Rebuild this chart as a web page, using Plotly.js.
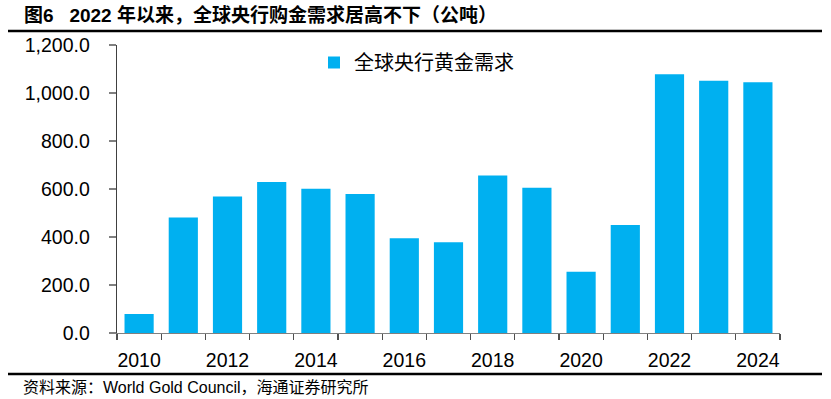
<!DOCTYPE html>
<html>
<head>
<meta charset="utf-8">
<script src="https://cdn.plot.ly/plotly-3.0.1.min.js"></script>
<style>html,body{margin:0;padding:0;background:#fff;}#chart{width:831px;height:399px;}</style>
</head>
<body>
<div id="chart"></div>
<script>
const years = [2010, 2011, 2012, 2013, 2014, 2015, 2016, 2017, 2018, 2019, 2020, 2021, 2022, 2023, 2024];
const demand = [79.2, 480.8, 569.0, 629.5, 601.0, 579.6, 394.9, 378.6, 656.2, 605.4, 254.9, 450.1, 1078.0, 1050.8, 1044.6];
const seriesName = '全球央行黄金需求';
const labelYears = years.filter((y, i) => i % 2 === 0);
const titleText = '<b>图6&nbsp;&nbsp;&nbsp;2022 年以来，全球央行购金需求居高不下（公吨）</b>';
const sourceText = '资料来源：World Gold Council，海通证券研究所';

const L = 117, R = 780, T = 45, B = 333;
const pw = R - L, ph = B - T;
const px = v => (v - L) / pw;
const py = v => (B - v) / ph;

const trace = {
  type: 'bar',
  x: years,
  y: demand,
  name: seriesName,
  marker: {color: '#00B0F0'},
  width: 0.66,
  showlegend: true
};

const layout = {
  width: 831, height: 399,
  margin: {l: L, r: 831 - R, t: T, b: 399 - B},
  paper_bgcolor: '#fff', plot_bgcolor: '#fff',
  font: {family: 'Liberation Sans, Arial, sans-serif', color: '#000'},
  showlegend: true,
  legend: {
    x: px(314), y: py(43), xanchor: 'left', yanchor: 'top',
    font: {family: 'Noto Sans CJK SC', size: 20, color: '#000'},
    bgcolor: 'rgba(0,0,0,0)', itemwidth: 30
  },
  xaxis: {
    type: 'linear',
    range: [years[0] - 0.5, years[years.length - 1] + 0.5],
    tickmode: 'array', tickvals: labelYears, tickformat: 'd',
    ticks: '', ticklen: 0,
    minor: {tick0: years[0] - 0.5, dtick: 1, ticks: 'outside', ticklen: 6, tickcolor: '#505050', tickwidth: 1.3, showgrid: false},
    showline: true, linecolor: '#808080', linewidth: 1.3,
    showgrid: false, zeroline: false,
    ticklabelstandoff: 9,
    tickfont: {family: 'Liberation Sans, Arial', size: 19.5, color: '#000'}
  },
  yaxis: {
    range: [0, 1200], dtick: 200, tick0: 0,
    tickformat: ',.1f',
    ticks: 'outside', ticklen: 7, tickcolor: '#808080', tickwidth: 1.3,
    showline: true, linecolor: '#404040', linewidth: 1.3,
    showgrid: false, zeroline: false,
    ticklabelstandoff: 15,
    tickfont: {family: 'Liberation Sans, Arial', size: 19.5, color: '#000'}
  },
  shapes: [
    {type: 'line', xref: 'paper', yref: 'paper', x0: px(8), x1: px(822), y0: py(31), y1: py(31), line: {color: '#000', width: 2.5}},
    {type: 'line', xref: 'paper', yref: 'paper', x0: px(8), x1: px(822), y0: py(374), y1: py(374), line: {color: '#000', width: 2.5}}
  ],
  annotations: [
    {text: titleText, xref: 'paper', yref: 'paper', x: px(22), y: py(15), xanchor: 'left', yanchor: 'middle', showarrow: false,
     font: {family: 'Liberation Sans, Noto Sans CJK SC', size: 19, color: '#000'}},
    {text: sourceText, xref: 'paper', yref: 'paper', x: px(21), y: py(387), xanchor: 'left', yanchor: 'middle', showarrow: false,
     font: {family: 'Liberation Sans, Noto Sans CJK SC', size: 16, color: '#000'}}
  ]
};

Plotly.newPlot('chart', [trace], layout, {displayModeBar: false, staticPlot: true});
</script>
</body>
</html>
